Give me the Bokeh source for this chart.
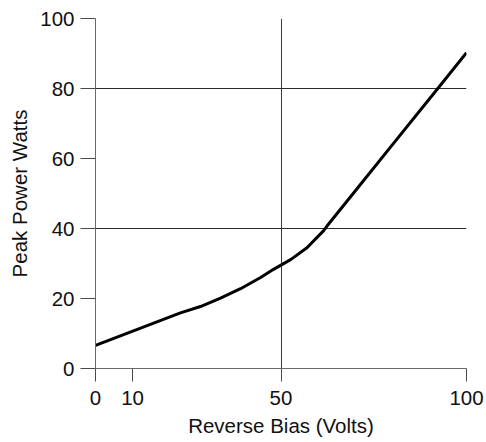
from bokeh.plotting import figure
from bokeh.models import Range1d, FixedTicker, Grid
from bokeh.embed import file_html
from bokeh.resources import INLINE

# Data
bias_volts = [0, 22.9, 28.3, 33.7, 39.1, 44.5, 48.1, 52.6, 57.0, 61.5, 62.4, 70.0, 80.0, 92.1, 100.0]
peak_watts = [6.6, 15.9, 17.7, 20.1, 22.8, 26.0, 28.4, 31.1, 34.5, 39.4, 40.7, 50.7, 63.9, 79.8, 90.2]

x_ticks = [0, 10, 50, 100]
y_ticks = [0, 20, 40, 60, 80, 100]
x_grid_at = [50, 100]
y_grid_at = [40, 80, 100]

FONT = "Liberation Sans"
TICK_SIZE = "20.5px"
LABEL_SIZE = "20.5px"

p = figure(width=486, height=442, output_backend="svg", toolbar_location=None,
           x_range=Range1d(0, 100), y_range=Range1d(0, 100),
           min_border_left=95, min_border_right=20, min_border_top=18, min_border_bottom=74)
p.background_fill_color = "white"
p.border_fill_color = "white"
p.outline_line_color = None

p.xgrid.visible = False
p.ygrid.visible = False
p.add_layout(Grid(dimension=0, ticker=FixedTicker(ticks=x_grid_at),
                  grid_line_color="#3a3a3a", grid_line_width=1))
p.add_layout(Grid(dimension=1, ticker=FixedTicker(ticks=y_grid_at),
                  grid_line_color="#2a2a2a", grid_line_width=1))

p.line(bias_volts, peak_watts, line_color="black", line_width=3)

for ax in (p.xaxis[0], p.yaxis[0]):
    ax.axis_line_color = "#6a6a6a"
    ax.major_tick_line_color = "#4a4a4a"
    ax.minor_tick_line_color = None
    ax.major_tick_in = 0
    ax.major_label_text_font = FONT
    ax.major_label_text_font_size = TICK_SIZE
    ax.major_label_text_color = "#111111"
    ax.axis_label_text_font = FONT
    ax.axis_label_text_font_size = LABEL_SIZE
    ax.axis_label_text_font_style = "normal"
    ax.axis_label_text_color = "#111111"

p.xaxis.ticker = FixedTicker(ticks=x_ticks)
p.yaxis.ticker = FixedTicker(ticks=y_ticks)
p.xaxis.axis_label = "Reverse Bias (Volts)"
p.yaxis.axis_label = "Peak Power Watts"

p.xaxis.major_tick_out = 13
p.xaxis.major_label_standoff = 9
p.xaxis.axis_label_standoff = 6
p.yaxis.major_tick_out = 15
p.yaxis.major_label_standoff = 6
p.yaxis.axis_label_standoff = 6

open("out.html", "w").write(file_html(p, INLINE))
